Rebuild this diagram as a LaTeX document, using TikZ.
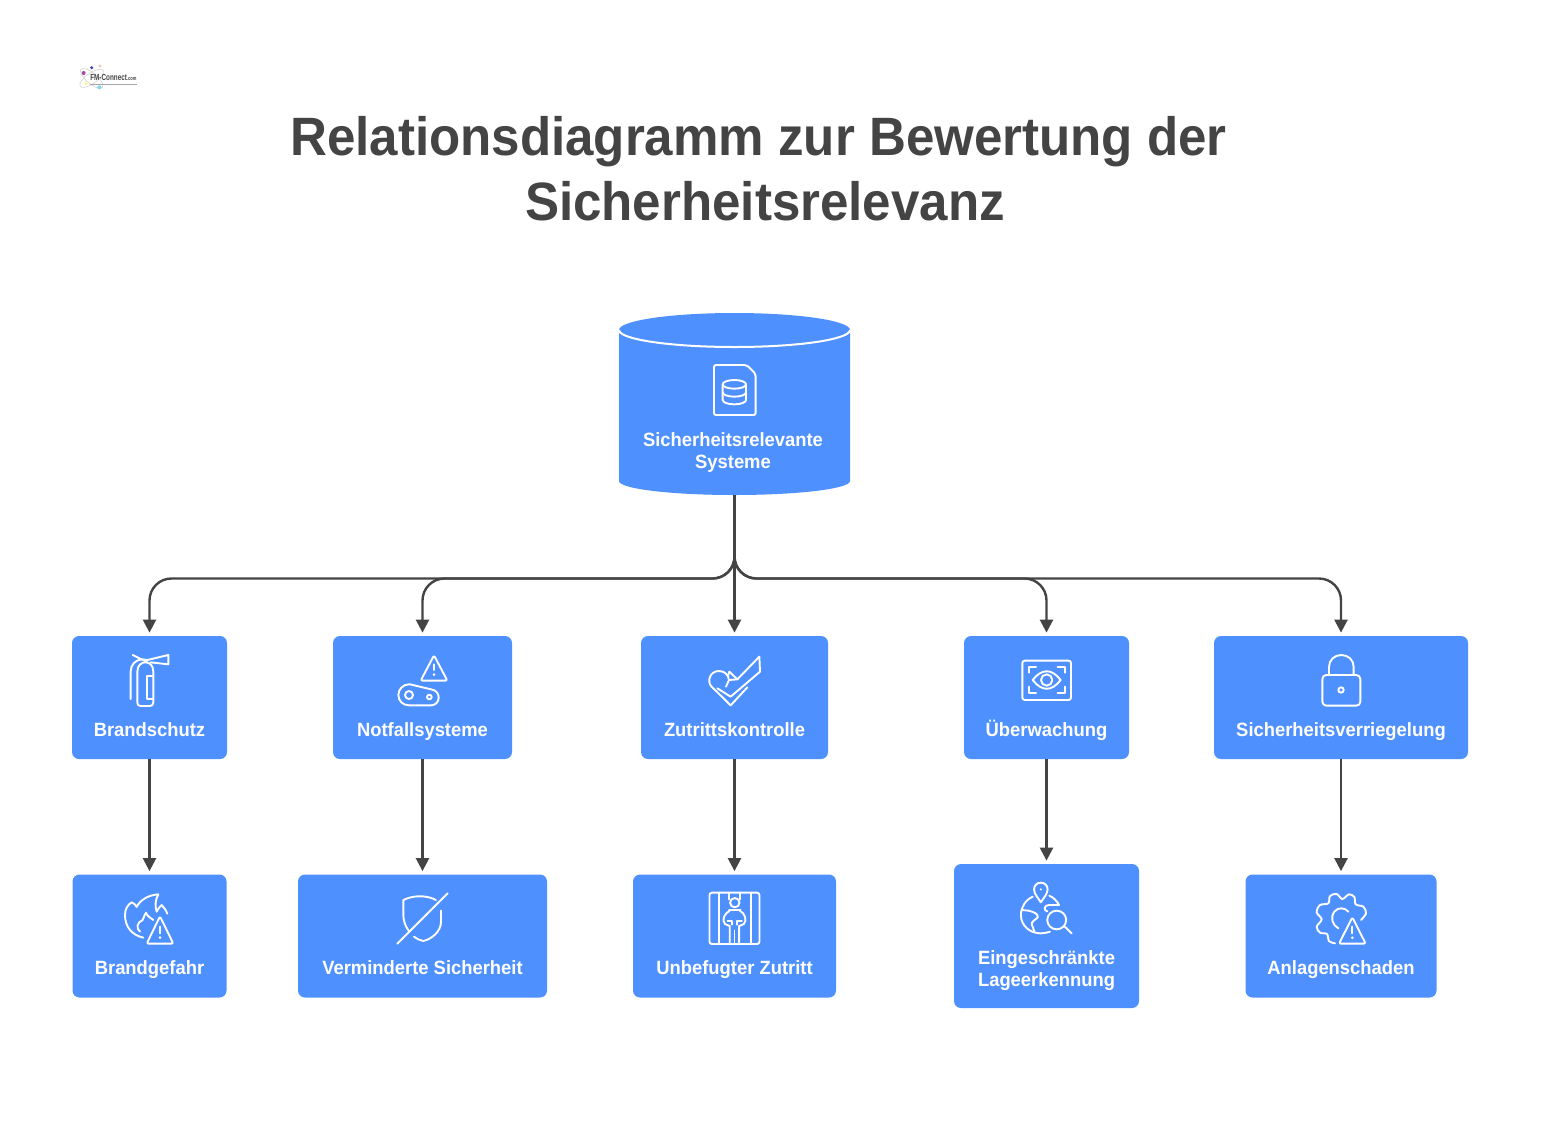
\documentclass[tikz,border=0pt]{standalone}
\usepackage{fontspec}
\setmainfont{Liberation Sans}
\usetikzlibrary{arrows.meta,calc}
\definecolor{boxblue}{HTML}{4F90FF}
\definecolor{inkdark}{HTML}{444444}
\newcommand{\nrw}[1]{\scalebox{0.958}[1]{#1}}
\newcommand{\ttlw}[1]{\scalebox{0.946}[1]{#1}}
\tikzset{
  box/.style={fill=boxblue,rounded corners=3.5pt,inner sep=0pt,draw=none},
  lab/.style={text=white,font=\bfseries\fontsize{9.6}{11}\selectfont,align=center,inner sep=0pt},
  lab1/.style={lab,anchor=base},
  ttl/.style={text=inkdark,font=\bfseries\fontsize{27}{32}\selectfont,inner sep=0pt,anchor=base},
  conn/.style={draw=inkdark,line width=1.2pt,-{Triangle[width=6.5pt,length=6.5pt]},shorten >=1.5pt},
  ico/.style={draw=white,line width=0.95pt,line cap=round,line join=round},
  dotf/.style={fill=white},
  zz/.style={x=0.166667pt,y=-0.166667pt},
  zy/.style={x=0.1689pt,y=-0.166667pt},
}
\begin{document}
\begin{tikzpicture}[x=0.5pt,y=-0.5pt]
\useasboundingbox (0,0) rectangle (1558,1146);
\fill[white] (0,0) rectangle (1558,1146);

% logo
\begin{scope}[shift={(60,50)},zz]
  \draw[gray!35,line width=0.3pt,rotate around={35:(95,85)}] (95,85) ellipse[x radius=42,y radius=16];
  \draw[gray!35,line width=0.3pt,rotate around={-40:(95,85)}] (95,85) ellipse[x radius=42,y radius=16];
  \fill[violet!70] (71,69) circle (6);
  \fill[blue!50!gray] (95,53) circle (5);
  \fill[red!25] (120,48) circle (5);
  \fill[yellow!50] (78,100) circle (5);
  \fill[cyan!50] (118,112) circle (6);
  \node[inner sep=0pt,text=inkdark,anchor=base] (logo) at (160,90) {\scalebox{0.72}[1]{\bfseries\fontsize{4.4}{5}\selectfont FM-Connect\fontsize{2.8}{3}\selectfont .com}};
  \draw[gray!70,line width=0.5pt] (90,102) -- (232,102);
\end{scope}

% title
\node[ttl] (t1) at (758.5,155) {\ttlw{Relationsdiagramm zur Bewertung der}};
\node[ttl] (t2) at (765,220) {\ttlw{Sicherheitsrelevanz}};

% cylinder
\node[minimum width=115.5pt,minimum height=91pt,inner sep=0pt] (src) at (734.5,404) {};
\fill[boxblue] (619,330) -- (619,481) arc[start angle=180,end angle=0,x radius=115.5,y radius=14] -- (850,330) arc[start angle=0,end angle=-180,x radius=115.5,y radius=17] -- cycle;
\draw[white,line width=1pt] (619,330) arc[start angle=180,end angle=0,x radius=115.5,y radius=17];
\node[lab] (srct) at (733,452.5) {\nrw{Sicherheitsrelevante}\\\nrw{Systeme}};

% boxes
\node[box,minimum width=77.5pt,minimum height=61.5pt] (a1) at (149.5,697.5) {};
\node[box,minimum width=89.5pt,minimum height=61.5pt] (a2) at (422.5,697.5) {};
\node[box,minimum width=93.5pt,minimum height=61.5pt] (a3) at (734.5,697.5) {};
\node[box,minimum width=82.5pt,minimum height=61.5pt] (a4) at (1046.5,697.5) {};
\node[box,minimum width=127pt,minimum height=61.5pt] (a5) at (1341,697.5) {};
\node[box,minimum width=77pt,minimum height=61.5pt] (b1) at (149.5,936) {};
\node[box,minimum width=124.5pt,minimum height=61.5pt] (b2) at (422.5,936) {};
\node[box,minimum width=101.5pt,minimum height=61.5pt] (b3) at (734.5,936) {};
\node[box,minimum width=92.5pt,minimum height=72pt] (b4) at (1046.5,936) {};
\node[box,minimum width=95.5pt,minimum height=61.5pt] (b5) at (1341,936) {};

% labels
\node[lab1] (la1) at (149.5,736) {\nrw{Brandschutz}};
\node[lab1] (la2) at (422.5,736) {\nrw{Notfallsysteme}};
\node[lab1] (la3) at (734.5,736) {\nrw{Zutrittskontrolle}};
\node[lab1] (la4) at (1046.5,736) {\nrw{Überwachung}};
\node[lab1] (la5) at (1341,736) {\nrw{Sicherheitsverriegelung}};
\node[lab1] (lb1) at (149.5,974) {\nrw{Brandgefahr}};
\node[lab1] (lb2) at (422.5,974) {\nrw{Verminderte Sicherheit}};
\node[lab1] (lb3) at (734.5,974) {\nrw{Unbefugter Zutritt}};
\node[lab] (lb4) at (1046.5,970.5) {\nrw{Eingeschränkte}\\\nrw{Lageerkennung}};
\node[lab1] (lb5) at (1341,974) {\nrw{Anlagenschaden}};

% connectors
\coordinate (bus) at (734.5,578.5);
\draw[conn,rounded corners=11pt] (src.south) -- (src.south |- bus) -| (a1.north);
\draw[conn,rounded corners=11pt] (src.south) -- (src.south |- bus) -| (a2.north);
\draw[conn] (src.south) -- (a3.north);
\draw[conn,rounded corners=11pt] (src.south) -- (src.south |- bus) -| (a4.north);
\draw[conn,rounded corners=11pt] (src.south) -- (src.south |- bus) -| (a5.north);
\foreach \i in {1,...,5} {\draw[conn] (a\i.south) -- (b\i.north);}

% icon: database document
\begin{scope}[shift={(600,300)},zz]
  \draw[ico,rounded corners=1pt] (342,195) -- (440,195) -- (467,222) -- (467,345) -- (342,345) -- cycle;
  \draw[ico] (403,253) ellipse[x radius=35,y radius=13];
  \draw[ico] (368,253) -- (368,300) arc[start angle=180,end angle=0,x radius=35,y radius=13] -- (438,253);
  \draw[ico] (368,277) arc[start angle=180,end angle=0,x radius=35,y radius=13];
\end{scope}

% icon: extinguisher
\begin{scope}[shift={(60,630)},zz]
  \draw[ico] (232,215) -- (232,125) .. controls (232,105) and (245,97) .. (256,97) .. controls (268,97) and (280,105) .. (280,125) -- (280,215) .. controls (280,225) and (275,228) .. (270,228) -- (242,228) .. controls (236,228) and (232,225) .. (232,215);
  \draw[ico] (277,137) -- (262,137) -- (262,207) -- (277,207);
  \draw[ico] (212,207) -- (212,125) .. controls (212,105) and (225,90) .. (245,88);
  \draw[ico] (218,75) -- (262,97);
  \draw[ico] (247,88) -- (262,90) -- (325,75) -- (325,103) -- (272,97);
\end{scope}

% icon: warning + belt
\begin{scope}[shift={(60,630)},zz]
  \draw[ico,rounded corners=1pt] (1122,76) -- (1082,152) -- (1162,152) -- cycle;
  \draw[ico] (1122,103) -- (1122,120);
  \fill[dotf] (1122,134) circle (4.5);
  \draw[ico] (1047,163) -- (1050,163) -- (1113,178) .. controls (1128,180) and (1136,190) .. (1136,203) .. controls (1136,216) and (1126,226) .. (1113,226) -- (1047,226) .. controls (1028,226) and (1015,212) .. (1015,195) .. controls (1015,177) and (1030,163) .. (1047,163);
  \draw[ico] (1047,195) circle (12);
  \draw[ico] (1108,201) circle (7);
\end{scope}

% icon: heart check
\begin{scope}[shift={(630,630)},zz]
  \draw[ico] (298,125) -- (322,148) -- (388,80) -- (390,125) -- (302,200) -- (262,175);
  \draw[ico] (298,125) -- (295,135);
  \draw[ico] (352,172) -- (302,226) -- (243,168) .. controls (232,155) and (238,123) .. (267,123) .. controls (285,123) and (295,135) .. (297,150) -- (288,170);
  \draw[ico] (297,150) -- (322,148);
\end{scope}

% icon: eye
\begin{scope}[shift={(630,630)},zz]
  \draw[ico,rounded corners=1.2pt] (1177,92) rectangle (1323,210);
  \draw[ico] (1197,128) -- (1197,110) -- (1218,110);
  \draw[ico] (1283,110) -- (1304,110) -- (1304,128);
  \draw[ico] (1197,170) -- (1197,190) -- (1218,190);
  \draw[ico] (1283,190) -- (1304,190) -- (1304,170);
  \draw[ico] (1208,150) .. controls (1235,115) and (1265,115) .. (1292,150) .. controls (1265,185) and (1235,185) .. (1208,150);
  \draw[ico] (1250,150) circle (17);
\end{scope}

% icon: lock
\begin{scope}[shift={(1200,630)},zz]
  \draw[ico,rounded corners=2pt] (367,135) rectangle (481,227);
  \draw[ico] (387,135) -- (387,111) .. controls (387,90) and (403,75) .. (424,75) .. controls (445,75) and (461,90) .. (461,111) -- (461,135);
  \draw[ico] (423,180) circle (8);
\end{scope}

% icon: flame warning
\begin{scope}[shift={(60,865)},zz]
  \draw[ico] (250,218) .. controls (215,210) and (195,185) .. (195,150) .. controls (195,130) and (205,118) .. (215,112) .. controls (222,115) and (228,120) .. (230,126) .. controls (240,105) and (265,90) .. (295,88) .. controls (285,105) and (285,125) .. (290,140) .. controls (295,130) and (300,125) .. (305,120) .. controls (312,128) and (318,135) .. (322,146);
  \draw[ico] (240,200) .. controls (228,190) and (230,172) .. (248,165) .. controls (252,158) and (252,150) .. (258,143) .. controls (262,155) and (272,158) .. (280,165);
  \draw[ico,rounded corners=1pt] (300,154) -- (260,236) -- (340,236) -- cycle;
  \draw[ico] (300,185) -- (300,205);
  \fill[dotf] (300,218) circle (4.5);
  % shield
  \draw[ico] (1045,196) .. controls (1035,182) and (1030,165) .. (1030,150) -- (1030,105) .. controls (1060,90) and (1100,90) .. (1128,105);
  \draw[ico] (1143,137) -- (1143,170) .. controls (1143,200) and (1115,222) .. (1090,228) .. controls (1080,226) and (1070,222) .. (1062,215);
  \draw[ico] (1012,236) -- (1163,85);
\end{scope}

% icon: prisoner
\begin{scope}[shift={(625,860)},zy]
  \draw[ico,rounded corners=1.2pt] (250,98) rectangle (398,252);
  \draw[ico] (278,98) -- (278,252);
  \draw[ico] (372,98) -- (372,252);
  \draw[ico] (308,98) -- (308,118);
  \draw[ico] (340,98) -- (340,118);
  \draw[ico] (325,128) circle (14);
  \draw[ico] (308,150) -- (342,150);
  \draw[ico] (310,152) .. controls (295,160) and (285,180) .. (296,192) -- (310,198) -- (310,250);
  \draw[ico] (340,152) .. controls (355,160) and (362,180) .. (352,192) -- (338,198) -- (338,250);
  \draw[ico] (324,212) -- (324,250);
  \draw[ico] (304,184) -- (318,184) -- (318,194);
  \draw[ico] (346,184) -- (332,184) -- (332,194);
\end{scope}

% icon: globe search
\begin{scope}[shift={(625,860)},zy]
  \draw[ico] (1231,127) .. controls (1222,112) and (1211,102) .. (1211,88) .. controls (1211,76) and (1220,68) .. (1231,68) .. controls (1242,68) and (1251,76) .. (1251,88) .. controls (1251,102) and (1240,112) .. (1231,127);
  \fill[dotf] (1231,88) circle (3.5);
  \draw[ico] (1207,110) .. controls (1185,120) and (1172,142) .. (1172,165) .. controls (1172,198) and (1200,220) .. (1230,220) .. controls (1240,220) and (1250,218) .. (1258,215);
  \draw[ico] (1256,107) .. controls (1268,112) and (1278,122) .. (1285,135) -- (1255,135) .. controls (1240,135) and (1238,152) .. (1250,154);
  \draw[ico] (1175,150) -- (1195,152) .. controls (1205,155) and (1225,160) .. (1222,172) .. controls (1215,180) and (1200,185) .. (1205,195) -- (1212,215);
  \draw[ico] (1278,180) circle (28);
  \draw[ico] (1300,198) -- (1322,220);
\end{scope}

% icon: gear warning
\begin{scope}[shift={(1235,865)},zz]
  \draw[ico] plot[smooth,tension=0.55] coordinates {(300,235) (282,228) (276,207) (255,203) (245,185) (260,163) (245,142) (255,120) (280,115) (285,93) (305,87) (322,102) (342,88) (358,96) (362,118) (385,125) (393,145) (378,165)};
  \draw[ico] (340,140) .. controls (330,128) and (310,125) .. (298,140) .. controls (285,158) and (292,180) .. (310,190);
  \draw[ico,rounded corners=1pt] (352,157) -- (312,236) -- (392,236) -- cycle;
  \draw[ico] (352,185) -- (352,205);
  \fill[dotf] (352,218) circle (4.5);
\end{scope}
\end{tikzpicture}
\end{document}
